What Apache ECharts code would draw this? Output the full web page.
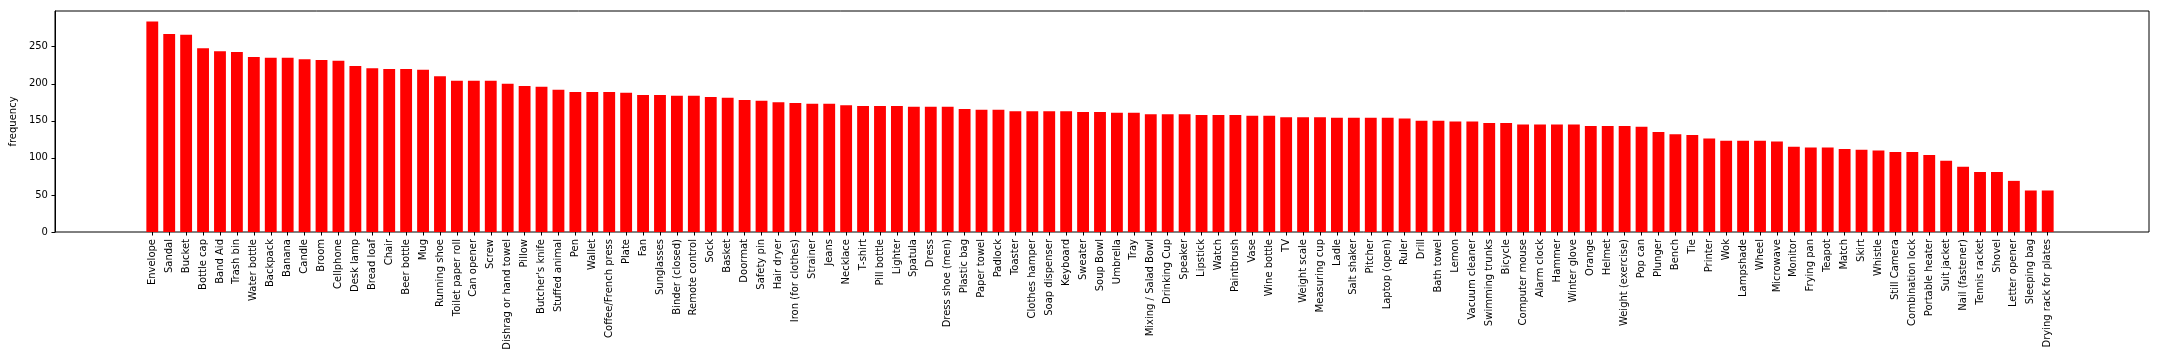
<!DOCTYPE html>
<html>
<head>
<meta charset="utf-8">
<script src="https://cdn.jsdelivr.net/npm/echarts@6/dist/echarts.min.js"></script>
<style>
html,body{margin:0;padding:0;background:#fff;}
#chart{width:2160px;height:360px;}
</style>
</head>
<body>
<div id="chart"></div>
<script>
const categories = ["Envelope","Sandal","Bucket","Bottle cap","Band Aid","Trash bin","Water bottle","Backpack","Banana","Candle","Broom","Cellphone","Desk lamp","Bread loaf","Chair","Beer bottle","Mug","Running shoe","Toilet paper roll","Can opener","Screw","Dishrag or hand towel","Pillow","Butcher's knife","Stuffed animal","Pen","Wallet","Coffee/French press","Plate","Fan","Sunglasses","Binder (closed)","Remote control","Sock","Basket","Doormat","Safety pin","Hair dryer","Iron (for clothes)","Strainer","Jeans","Necklace","T-shirt","Pill bottle","Lighter","Spatula","Dress","Dress shoe (men)","Plastic bag","Paper towel","Padlock","Toaster","Clothes hamper","Soap dispenser","Keyboard","Sweater","Soup Bowl","Umbrella","Tray","Mixing / Salad Bowl","Drinking Cup","Speaker","Lipstick","Watch","Paintbrush","Vase","Wine bottle","TV","Weight scale","Measuring cup","Ladle","Salt shaker","Pitcher","Laptop (open)","Ruler","Drill","Bath towel","Lemon","Vacuum cleaner","Swimming trunks","Bicycle","Computer mouse","Alarm clock","Hammer","Winter glove","Orange","Helmet","Weight (exercise)","Pop can","Plunger","Bench","Tie","Printer","Wok","Lampshade","Wheel","Microwave","Monitor","Frying pan","Teapot","Match","Skirt","Whistle","Still Camera","Combination lock","Portable heater","Suit jacket","Nail (fastener)","Tennis racket","Shovel","Letter opener","Sleeping bag","Drying rack for plates"];
const frequency = [284,267,266,248,244,243,236,235,235,233,232,231,224,221,220,220,219,210,204,204,204,200,197,196,192,189,189,189,188,185,185,184,184,182,181,178,177,175,174,173,173,171,170,170,170,169,169,169,166,165,165,163,163,163,163,162,162,161,161,159,159,159,158,158,158,157,157,155,155,155,154,154,154,154,153,150,150,149,149,147,147,145,145,145,145,143,143,143,142,135,132,131,126,123,123,123,122,115,114,114,112,111,110,108,108,104,96,88,81,81,69,56,56];
const yTicks = [0,50,100,150,200,250];
const yLabel = "frequency";

const FONT = "DejaVu Sans";
const yMax = Math.max.apply(null, frequency) * 1.05;

// matplotlib-like x limits: bars at 0..n-1, width 0.7, 5% margins
const BAR_W = 0.7;
const n = categories.length;
const dataSpan = (n - 1) + BAR_W;
const xMin = -BAR_W / 2 - 0.05 * dataSpan;
const xMax = (n - 1) + BAR_W / 2 + 0.05 * dataSpan;
const frameLeft = 51, frameRight = 2149, frameTop = 11, frameBottom = 232;
const pxPerUnit = (frameRight - frameLeft) / (xMax - xMin);
const barsLeft = frameLeft + (-0.5 - xMin) * pxPerUnit;
const barsWidth = n * pxPerUnit;

const chart = echarts.init(document.getElementById('chart'), null, {renderer: 'canvas'});
chart.setOption({
  animation: false,
  backgroundColor: '#ffffff',
  textStyle: {fontFamily: FONT},
  grid: [
    {left: frameLeft, top: frameTop, width: frameRight - frameLeft, height: frameBottom - frameTop,
     show: true, borderColor: '#000', borderWidth: 1, backgroundColor: 'transparent', containLabel: false},
    {left: barsLeft, top: frameTop, width: barsWidth, height: frameBottom - frameTop, containLabel: false}
  ],
  xAxis: [
    {gridIndex: 0, type: 'value', min: 0, max: 1, show: false},
    {gridIndex: 1, type: 'category', data: categories,
     axisLine: {show: false},
     axisTick: {show: true, alignWithLabel: true, interval: 0, length: 3.5, lineStyle: {color: '#000', width: 1}},
     axisLabel: {interval: 0, rotate: 90, margin: 7, color: '#000', fontFamily: FONT, fontSize: 10},
     splitLine: {show: false}}
  ],
  yAxis: [
    {gridIndex: 0, type: 'value', min: 0, max: yMax,
     name: yLabel, nameLocation: 'middle', nameGap: 32, nameRotate: 90,
     nameTextStyle: {color: '#000', fontFamily: FONT, fontSize: 10},
     axisLine: {show: true, lineStyle: {color: '#000', width: 1}},
     axisTick: {show: true, length: 3.5, customValues: yTicks, lineStyle: {color: '#000', width: 1}},
     axisLabel: {margin: 7, color: '#000', fontFamily: FONT, fontSize: 10, customValues: yTicks},
     splitLine: {show: false}},
    {gridIndex: 1, type: 'value', min: 0, max: yMax, show: false}
  ],
  series: [{
    type: 'bar', xAxisIndex: 1, yAxisIndex: 1,
    data: frequency, barWidth: (BAR_W * 100) + '%',
    itemStyle: {color: '#ff0000'}
  }]
});
</script>
</body>
</html>
